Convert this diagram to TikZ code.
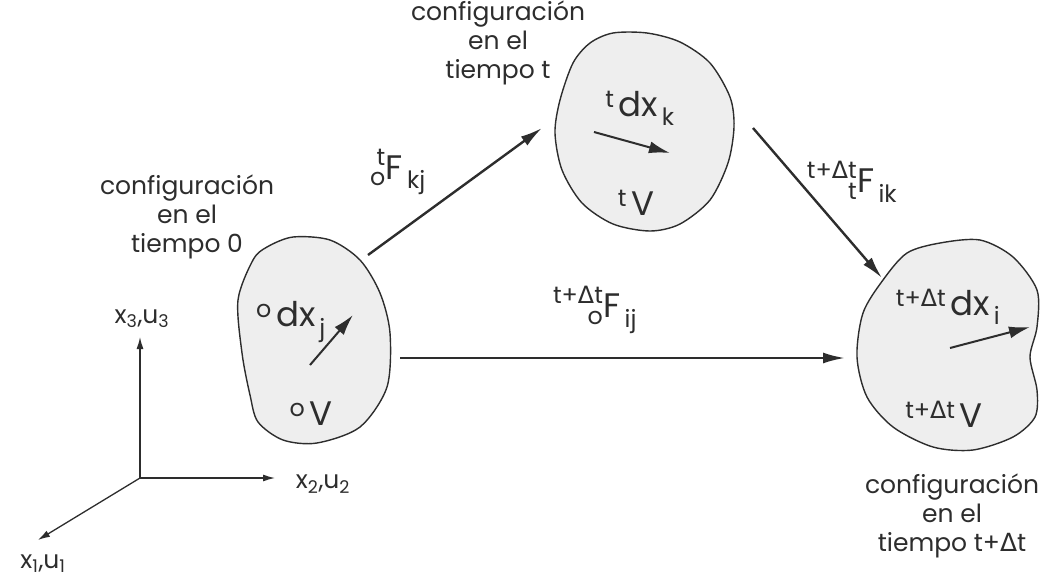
\documentclass[tikz,border=0pt]{standalone}
\usepackage{fontspec}
\usepackage{amsmath}
\usepackage{mathtools}
\setmainfont{Poppins}
\newfontfamily\deltafont{DejaVu Sans}
\usepackage{tikz}
\usetikzlibrary{arrows.meta, calc}
\definecolor{myink}{RGB}{45,45,45}
\definecolor{myfill}{RGB}{238,238,238}
\newcommand{\dlt}{{\deltafont Δ}}
\newcommand{\tx}[1]{\text{#1}}
\tikzset{
  body/.style={draw=myink, fill=myfill, line width=1.4pt},
  cfgtext/.style={align=center, text=myink, font=\fontsize{25}{29}\selectfont, inner sep=0pt},
  lbl/.style={text=myink, font=\fontsize{34}{36}\selectfont, inner sep=0pt},
  axlbl/.style={text=myink, font=\fontsize{25}{27}\selectfont, inner sep=0pt},
  maparrow/.style={-{Latex[length=22pt,width=11pt]}, line width=2.4pt, color=myink},
  vecarrow/.style={-{Latex[length=21pt,width=12pt]}, line width=2pt, color=myink},
  axis/.style={-{Latex[length=12pt,width=7pt]}, line width=1.3pt, color=myink}
}

\begin{document}
\begin{tikzpicture}[x=1pt, y=-1pt]
  \useasboundingbox (0,0) rectangle (1045,582);

  % Bodies
  \draw[body] plot[smooth cycle] coordinates {(293,237) (330,240) (360,260) (380,293) (390,333)
    (387,387) (360,427) (317,443) (283,440) (258,422) (250,395) (242,353) (238,300) (253,260) (267,247)};
  \draw[body] plot[smooth cycle] coordinates {(613,33) (647,33) (680,42) (710,63) (730,97)
    (734,127) (728,163) (710,200) (680,224) (650,231) (613,224) (582,203) (562,170) (555,133) (560,100) (573,63) (590,43)};
  \draw[body] plot[smooth cycle] coordinates {(940,243) (980,240) (1013,257) (1037,290) (1037,327)
    (1030,357) (1037,390) (1035,417) (1013,437) (973,450) (933,447) (893,427) (867,397) (857,357)
    (863,313) (883,280) (907,253)};

  % Attach points
  \coordinate (b0out) at (368,255);
  \coordinate (b0right) at (400,358);
  \coordinate (btin) at (542,128);
  \coordinate (btout) at (753,128);
  \coordinate (bdin) at (882,278);
  \coordinate (bdleft) at (845,358);

  % Mappings
  \draw[maparrow] (b0out) -- (btin);
  \draw[maparrow] (btout) -- (bdin);
  \draw[maparrow] (b0right) -- (bdleft);
  \node[lbl] (F0t) at (398,172) {$\prescript{\tx{t}}{\tx{o}}{\tx{F}}_{\,\tx{kj}}$};
  \node[lbl] (Ftd) at (852,182) {$\prescript{\tx{t+\dlt t}}{\tx{t}}{\tx{F}}_{\,\tx{ik}}$};
  \node[lbl] (F0d) at (595,310) {$\prescript{\tx{t+\dlt t}}{\tx{o}}{\tx{F}}_{\,\tx{ij}}$};

  % Line elements
  \coordinate (v0a) at (310,365);
  \coordinate (v0b) at (353,315);
  \coordinate (vta) at (594,132);
  \coordinate (vtb) at (670,153);
  \coordinate (vda) at (950,348);
  \coordinate (vdb) at (1030,327);
  \draw[vecarrow] (v0a) -- (v0b);
  \draw[vecarrow] (vta) -- (vtb);
  \draw[vecarrow] (vda) -- (vdb);

  % Labels inside bodies
  \node[lbl] (dx0) at (291,322) {$^{\tx{o}}\,\tx{dx}_{\,\tx{j}}$};
  \node[lbl] (V0) at (311,414) {$^{\tx{o}}\,\tx{V}$};
  \node[lbl] (dxt) at (640,108) {$^{\tx{t}}\,\tx{dx}_{\,\tx{k}}$};
  \node[lbl] (Vt) at (636,203) {$^{\tx{t}}\,\tx{V}$};
  \node[lbl] (dxd) at (948,307) {$^{\tx{t+\dlt t}}\,\tx{dx}_{\,\tx{i}}$};
  \node[lbl] (Vd) at (944,414) {$^{\tx{t+\dlt t}}\,\tx{V}$};

  % Configurations
  \node[cfgtext] (cfg0) at (187,217) {configuración\\en el\\tiempo 0};
  \node[cfgtext] (cfgt) at (498,43) {configuración\\en el\\tiempo t};
  \node[cfgtext] (cfgd) at (952,516) {configuración\\en el\\tiempo t+\dlt t};

  % Axes
  \coordinate (O) at (140,478);
  \coordinate (ax3) at (140,337);
  \coordinate (ax2) at (275,478);
  \coordinate (ax1) at (38,540);
  \draw[axis] (O) -- (ax3);
  \draw[axis] (O) -- (ax2);
  \draw[axis] (O) -- (ax1);
  \node[axlbl] (l3) at (142,319) {$\tx{x}_{\tx{3}}\tx{,}\tx{u}_{\tx{3}}$};
  \node[axlbl] (l2) at (323,484) {$\tx{x}_{\tx{2}}\tx{,}\tx{u}_{\tx{2}}$};
  \node[axlbl] (l1) at (43,564) {$\tx{x}_{\tx{1}}\tx{,}\tx{u}_{\tx{1}}$};
\end{tikzpicture}
\end{document}
